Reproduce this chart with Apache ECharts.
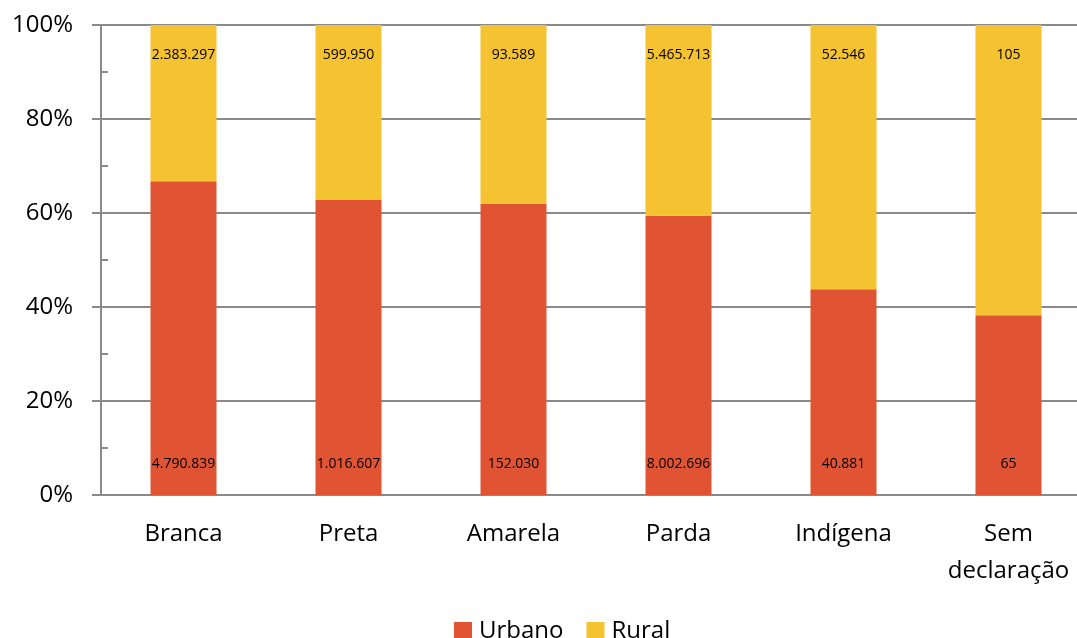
<!DOCTYPE html>
<html>
<head>
<meta charset="utf-8">
<script src="https://cdn.jsdelivr.net/npm/echarts@6/dist/echarts.min.js"></script>
<style>
  html, body { margin: 0; padding: 0; background: #fff; }
  #chart { width: 1077px; height: 638px; }
</style>
</head>
<body>
<div id="chart"></div>
<script>
// categorias e valores absolutos
var categories = ['Branca', 'Preta', 'Amarela', 'Parda', 'Indígena', 'Sem\ndeclaração']
var urbano = [4790839, 1016607, 152030, 8002696, 40881, 65]
var rural = [2383297, 599950, 93589, 5465713, 52546, 105]
var yTicks = [0, 20, 40, 60, 80, 100]

var gray = '#8a8a8a'
var font = 'Open Sans'

function share (v, i) {
  return v / (urbano[i] + rural[i]) * 100
}
function fmt (n) {
  return String(n).replace(/\B(?=(\d{3})+(?!\d))/g, '.')
}

var myChart = echarts.init(document.getElementById('chart'))
myChart.setOption({
  color: ['#e05434', '#f5c231'],
  animation: false,
  textStyle: { fontFamily: font },
  legend: {
    bottom: -10,
    left: 449,
    itemWidth: 18,
    itemHeight: 18,
    itemGap: 23,
    icon: 'rect',
    textStyle: { fontSize: 24, color: '#000', fontFamily: font, padding: [0, 0, 0, 2] },
    data: ['Urbano', 'Rural']
  },
  grid: {
    top: 25,
    left: 101,
    width: 990,
    bottom: 143,
    outerBoundsMode: 'none'
  },
  xAxis: {
    type: 'category',
    data: categories,
    axisLine: { lineStyle: { color: gray, width: 2 } },
    axisTick: { length: 9, lineStyle: { color: gray, width: 2 } },
    axisLabel: {
      color: '#000',
      fontSize: 24,
      lineHeight: 37,
      margin: 21,
      fontFamily: font
    }
  },
  yAxis: [
    {
      type: 'value',
      min: yTicks[0],
      max: yTicks[yTicks.length - 1],
      interval: 20,
      axisLine: { show: true, lineStyle: { color: gray, width: 2 } },
      axisTick: { show: true, length: 9, lineStyle: { color: gray, width: 2 } },
      splitLine: { lineStyle: { color: gray, width: 2 } },
      axisLabel: {
        color: '#000',
        fontSize: 24,
        margin: 28,
        fontFamily: font,
        formatter: '{value}%'
      }
    },
    {
      // ticks menores (10%) para dentro
      type: 'value',
      position: 'left',
      min: 0,
      max: 100,
      interval: 10,
      axisLine: { show: false },
      axisTick: { show: true, inside: true, length: 7, lineStyle: { color: gray, width: 2 } },
      splitLine: { show: false },
      axisLabel: { show: false }
    }
  ],
  series: [
    {
      name: 'Urbano',
      type: 'bar',
      stack: 'total',
      barWidth: 66,
      label: {
        show: true,
        position: 'insideBottom',
        distance: 24,
        color: '#000',
        fontSize: 14,
        fontFamily: font,
        formatter: function (p) { return fmt(urbano[p.dataIndex]) }
      },
      data: urbano.map(share)
    },
    {
      name: 'Rural',
      type: 'bar',
      stack: 'total',
      barWidth: 66,
      label: {
        show: true,
        position: 'insideTop',
        distance: 23,
        color: '#000',
        fontSize: 14,
        fontFamily: font,
        formatter: function (p) { return fmt(rural[p.dataIndex]) }
      },
      data: rural.map(share)
    }
  ]
})
</script>
</body>
</html>
